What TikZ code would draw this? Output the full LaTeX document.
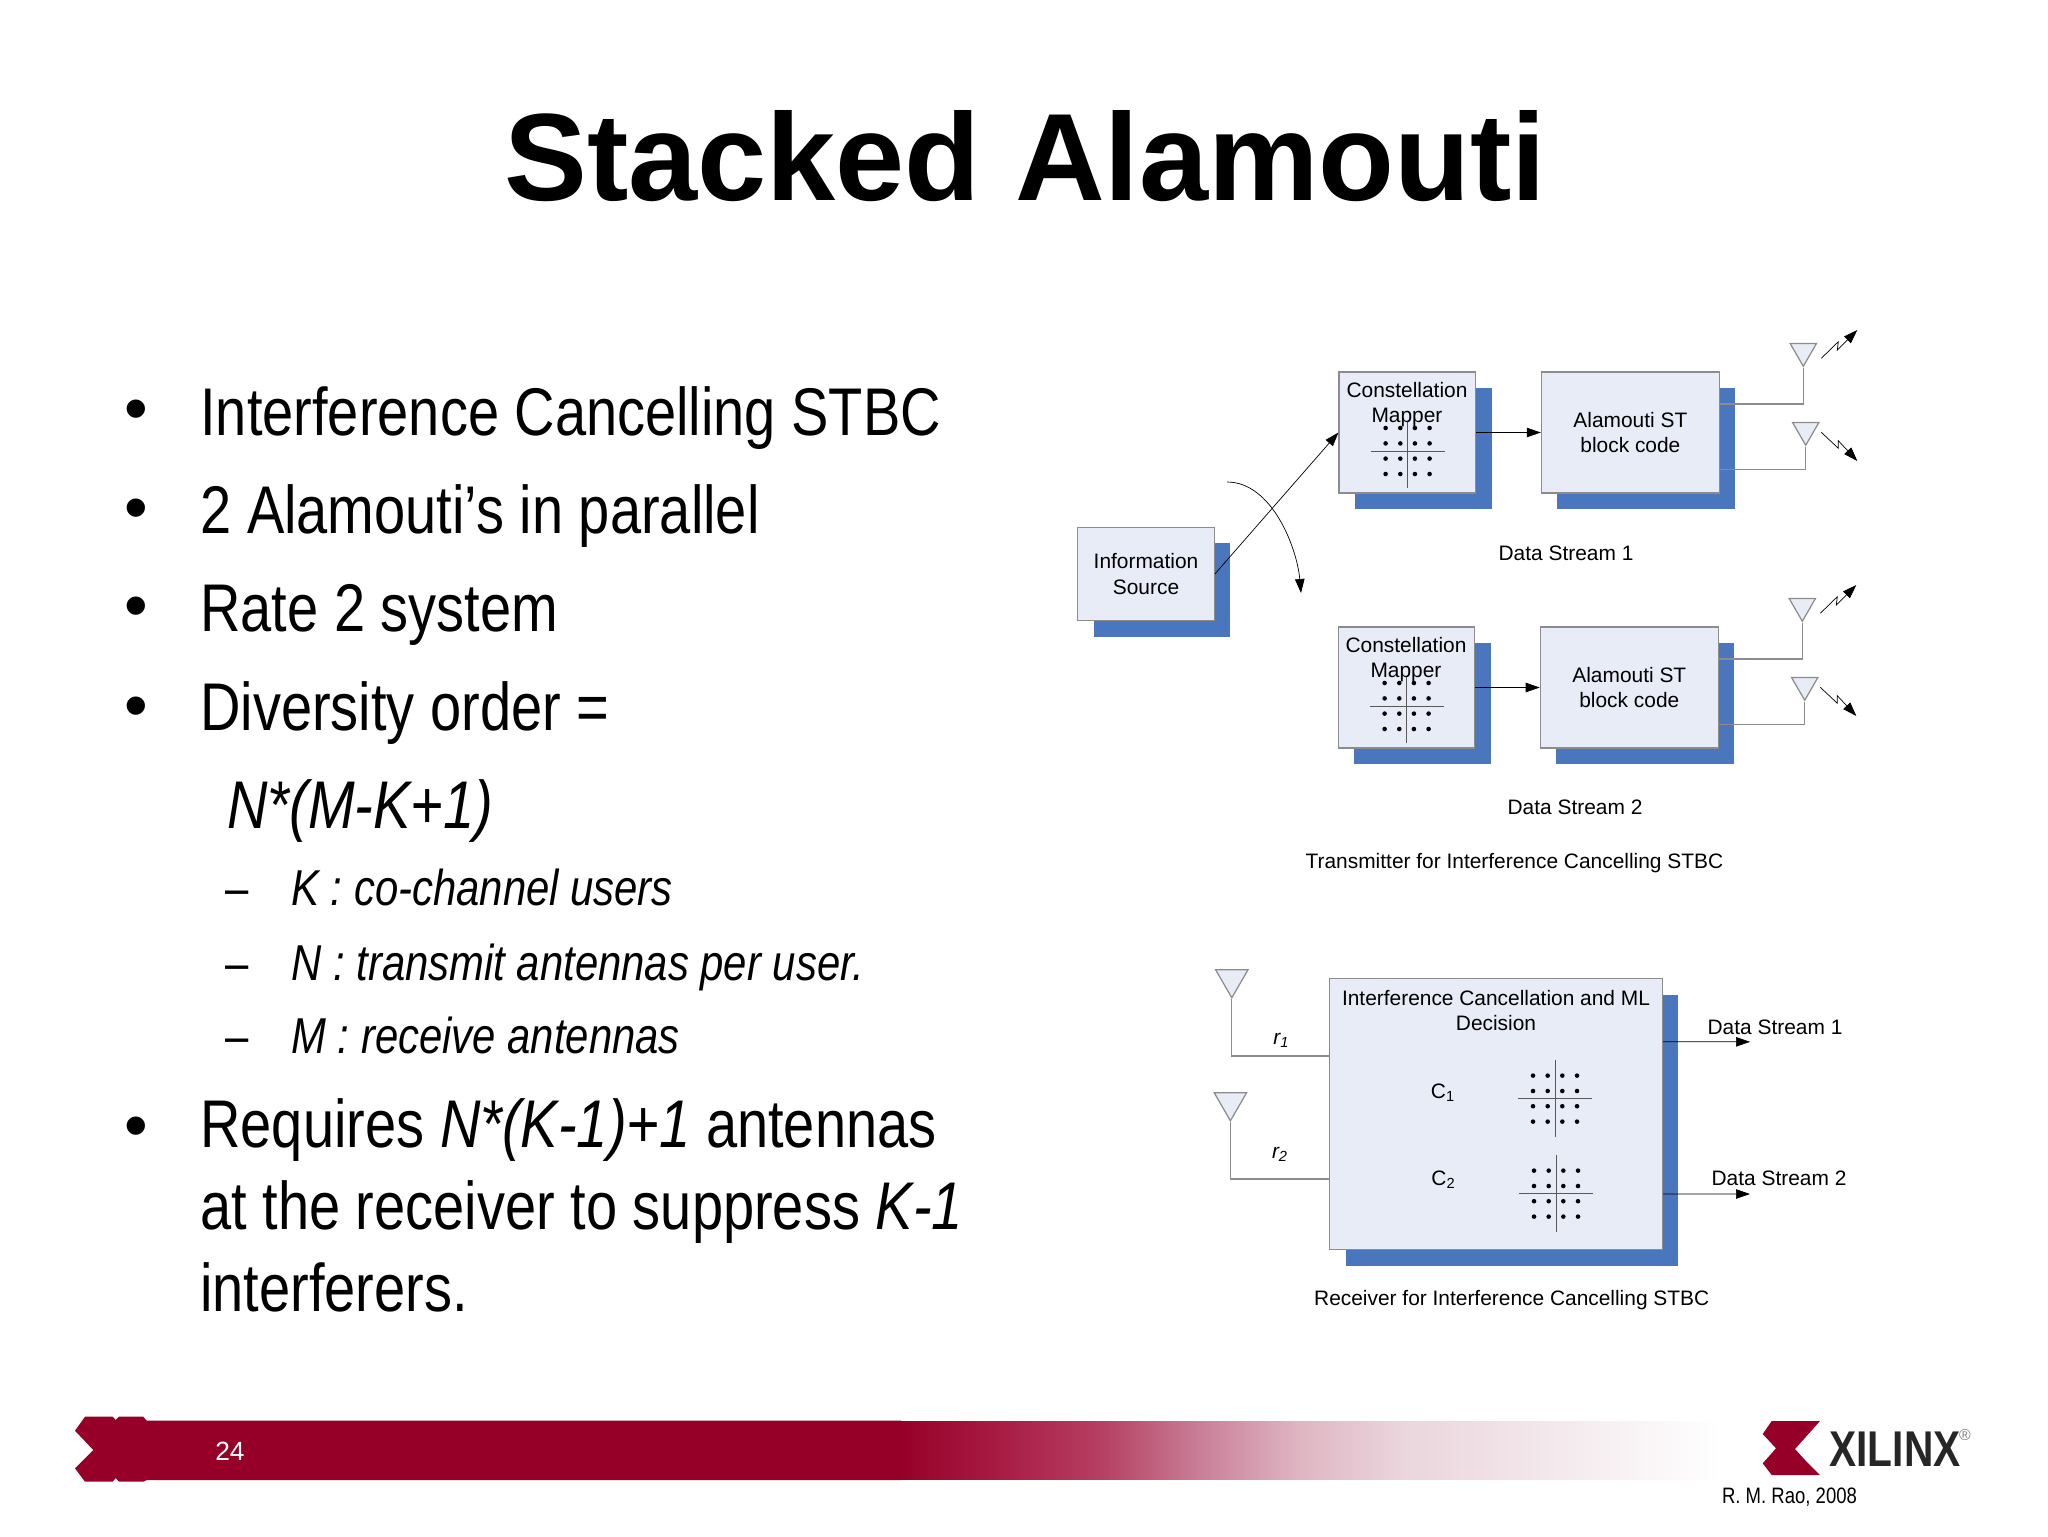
\documentclass[tikz,border=0pt]{standalone}
\usepackage{fontspec}
\setmainfont{Liberation Sans}
\newfontfamily\bodyfont[FakeStretch=0.83]{Liberation Sans}
\newfontfamily\logofont[FakeStretch=0.81]{Liberation Sans}
\usetikzlibrary{arrows.meta,shadows,shapes.geometric}
\definecolor{boxfill}{HTML}{E8ECF6}
\definecolor{boxline}{HTML}{8C8C8C}
\definecolor{boxshade}{HTML}{4A76BE}
\definecolor{xilred}{HTML}{960028}
\definecolor{fadeA}{HTML}{A81C44}
\definecolor{fadeB}{HTML}{B53F62}
\definecolor{fadeC}{HTML}{C97F97}
\definecolor{fadeD}{HTML}{DFB6C3}
\definecolor{fadeE}{HTML}{EAD5DC}
\definecolor{fadeF}{HTML}{F3E8EC}
\pgfdeclarehorizontalshading{bandfade}{100bp}{color(0bp)=(xilred); color(25bp)=(xilred); color(31.1bp)=(fadeA); color(37.2bp)=(fadeB); color(43.3bp)=(fadeC); color(49.4bp)=(fadeD); color(55.5bp)=(fadeE); color(64.6bp)=(fadeF); color(75bp)=(white); color(100bp)=(white)}
\newcommand{\constel}[4]{% centre x, centre y, top and bottom of the upright axis
  \draw[axisline] (#1-37,#2)--(#1+37,#2) (#1,#2-#3)--(#1,#2+#4);
  \foreach \dx in {-22,-7.3,7.3,22} \foreach \dy in {-23,-7.6,7.6,23}
    \fill[black] (#1+\dx,#2+\dy) circle (1.3pt);
}
\tikzset{
  block/.style={draw=boxline,fill=boxfill,line width=0.7pt,inner sep=0pt,align=center,font=\fontsize{11.9}{14.4}\selectfont,
    general shadow={fill=boxshade,draw=none,shadow xshift=0.32cm,shadow yshift=-0.32cm}},
  antenna/.style={draw=boxline,fill=boxfill,line width=0.7pt,regular polygon,regular polygon sides=3,shape border rotate=180,inner sep=0pt},
  wire/.style={draw=boxline,line width=0.7pt},
  arrowline/.style={draw=black,line width=0.4pt,-{Triangle[length=2.8mm,width=1.9mm]}},
  axisline/.style={draw=black!65,line width=0.5pt},
  caption/.style={font=\fontsize{11.9}{14.4}\selectfont,inner sep=0pt,align=center},
  bodyline/.style={font=\bodyfont\fontsize{38.4}{46.7}\selectfont,anchor=base west,inner sep=0pt,align=left},
  subline/.style={font=\bodyfont\fontsize{28.7}{34}\selectfont\itshape,anchor=base west,inner sep=0pt},
  dashmark/.style={font=\bodyfont\fontsize{28.7}{34}\selectfont,anchor=base west,inner sep=0pt},
  bulletmark/.style={font=\fontsize{38.4}{40}\selectfont,inner sep=0pt},
}
\begin{document}
\begin{tikzpicture}[x=0.02cm,y=-0.02cm]
\useasboundingbox (0,0) rectangle (2048,1536);
% title
\node[font=\bfseries\fontsize{70.7}{72}\selectfont,anchor=base,inner sep=0pt] (title) at (1025.5,200) {Stacked Alamouti};
% text on the left
\node[bulletmark] (b1) at (136.5,416) {\textbullet};
\node[bulletmark] (b2) at (136.5,514.5) {\textbullet};
\node[bulletmark] (b3) at (136.5,613) {\textbullet};
\node[bulletmark] (b4) at (136.5,713) {\textbullet};
\node[bulletmark] (b5) at (136.5,1133) {\textbullet};
\node[bodyline] (t1) at (200,435) {Interference Cancelling STBC};
\node[bodyline] (t2) at (200,533.3) {2 Alamouti’s in parallel};
\node[bodyline] (t3) at (200,631.7) {Rate 2 system};
\node[bodyline] (t4) at (200,730) {Diversity order =};
\node[bodyline] (t5) at (227,828.5) {\itshape N*(M-K+1)};
\node[dashmark] (d1) at (225,905) {–};
\node[dashmark] (d2) at (225,980) {–};
\node[dashmark] (d3) at (225,1053) {–};
\node[subline] (s1) at (291,905) {K : co-channel users};
\node[subline] (s2) at (291,980) {N : transmit antennas per user.};
\node[subline] (s3) at (291,1053) {M : receive antennas};
\node[bodyline] (t6) at (200,1311.5) {Requires {\itshape N*(K-1)+1} antennas\\at the receiver to suppress {\itshape K-1}\\interferers.};
% transmitter
\node[block,minimum width=2.73cm,minimum height=1.87cm] (info) at (1146,574) {Information\\Source};
\node[block,minimum width=2.73cm,minimum height=2.42cm] (mapA) at (1407.3,432.5) {};
\node[block,minimum width=3.56cm,minimum height=2.42cm] (alamA) at (1630.4,432.5) {Alamouti ST\\block code};
\node[block,minimum width=2.73cm,minimum height=2.42cm] (mapB) at (1406.5,687.5) {};
\node[block,minimum width=3.56cm,minimum height=2.42cm] (alamB) at (1629.3,687.5) {Alamouti ST\\block code};
\node[caption] (conA) at (1407,390) {Constellation};
\node[caption] (mprA) at (1407,417) {Mapper};
\node[caption] (conB) at (1406,645) {Constellation};
\node[caption] (mprB) at (1406,672) {Mapper};
\constel{1407.6}{451}{28.6}{37.4}
\constel{1406.6}{706}{28.6}{37.4}
\node[antenna,minimum size=0.61cm,anchor=corner 1] (antA) at (1803.3,367.5) {};
\node[antenna,minimum size=0.61cm,anchor=corner 1] (antB) at (1805.7,446.5) {};
\node[antenna,minimum size=0.61cm,anchor=corner 1] (antC) at (1802.3,622.5) {};
\node[antenna,minimum size=0.61cm,anchor=corner 1] (antD) at (1804.7,701.5) {};
\draw[wire] ([yshift=0.57cm]alamA.east) -| (antA.corner 1);
\draw[wire] ([yshift=-0.74cm]alamA.east) -| (antB.corner 1);
\draw[wire] ([yshift=0.57cm]alamB.east) -| (antC.corner 1);
\draw[wire] ([yshift=-0.74cm]alamB.east) -| (antD.corner 1);
\draw[arrowline] (mapA.east)--(alamA.west);
\draw[arrowline] (mapB.east)--(alamB.west);
\draw[arrowline] (info.east)--(mapA.west);
\coordinate (splitA) at (1227,482);
\coordinate (splitB) at (1301,593);
\draw[arrowline] (splitA) .. controls (1272,482) and (1297,548) .. (splitB);
\coordinate (waveA) at (1821.3,358.3);
\coordinate (waveB) at (1857.3,330);
\coordinate (waveC) at (1821.3,432.3);
\coordinate (waveD) at (1857.3,461);
\coordinate (waveE) at (1820.3,613.3);
\coordinate (waveF) at (1856.3,585);
\coordinate (waveG) at (1820.3,687.3);
\coordinate (waveH) at (1856.3,716);
\draw[arrowline] (waveA)--++(17,-16.6)--++(-1,8.3)--(waveB);
\draw[arrowline] (waveC)--++(17,16)--++(0,-7.6)--(waveD);
\draw[arrowline] (waveE)--++(17,-16.6)--++(-1,8.3)--(waveF);
\draw[arrowline] (waveG)--++(17,16)--++(0,-7.6)--(waveH);
\node[caption] (dsA) at (1566,553) {Data Stream 1};
\node[caption] (dsB) at (1575,807) {Data Stream 2};
\node[caption] (txcap) at (1514.4,863) {Transmitter for Interference Cancelling STBC};
% receiver
\node[block,minimum width=6.66cm,minimum height=5.42cm] (rx) at (1496,1114.3) {};
\node[caption] (rxtxt) at (1496,1010.2) {Interference Cancellation and ML\\Decision};
\node[caption] (cA) at (1443,1092.3) {C\textsubscript{1}};
\node[caption] (cB) at (1443.5,1179.7) {C\textsubscript{2}};
\constel{1555}{1098.6}{38.5}{38.5}
\constel{1556}{1193.6}{38.5}{38.5}
\node[antenna,minimum size=0.75cm,anchor=corner 1] (antR) at (1231.8,999) {};
\node[antenna,minimum size=0.75cm,anchor=corner 1] (antS) at (1230.4,1122) {};
\draw[wire] (antR.corner 1) |- ([yshift=1.165cm]rx.west);
\draw[wire] (antS.corner 1) |- ([yshift=-1.295cm]rx.west);
\node[caption] (rA) at (1281.4,1040.5) {\itshape r\textsubscript{1}};
\node[caption] (rB) at (1280,1154.5) {\itshape r\textsubscript{2}};
\coordinate (outA) at (1750,1041.8);
\coordinate (outB) at (1750,1194);
\draw[arrowline] ([yshift=1.45cm]rx.east)--(outA);
\draw[arrowline] ([yshift=-1.594cm]rx.east)--(outB);
\node[caption] (dsC) at (1775,1027) {Data Stream 1};
\node[caption] (dsD) at (1779,1178) {Data Stream 2};
\node[caption] (rxcap) at (1511.7,1300) {Receiver for Interference Cancelling STBC};
% footer band
\fill[xilred] (75,1430.7)--(85,1416.7)--(112.7,1416.7)--(115.7,1420)--(119,1416.7)--(143.3,1416.7)--(146.7,1420.7)--(901,1420.7)
  --(901,1480)--(146.7,1480)--(143.3,1481.7)--(119,1481.7)--(115.7,1478)--(112.7,1481.7)--(85,1481.7)--(75,1468.3)--(93.3,1450)--cycle;
\shade[shading=bandfade] (900,1421.3) rectangle (1720,1479.6);
\node[font=\fontsize{15}{16}\selectfont,text=white,anchor=base,inner sep=0pt] (pagenum) at (230,1460) {24};
% logo
\fill[xilred] (1771.7,1421)--(1820,1421)--(1795,1449)--(1805,1460)--(1820,1475)--(1771.7,1475)--(1762.7,1463.3)--(1776,1448.3)--(1762.7,1434)--cycle;
\node[font=\logofont\bfseries\fontsize{28.6}{30}\selectfont,text=black!85,anchor=base west,inner sep=0pt] (xilinx) at (1829,1466.7) {XILINX};
\node[font=\fontsize{9}{10}\selectfont,text=black!50,inner sep=0pt] (regmark) at (1965,1435) {®};
\node[font=\bodyfont\fontsize{12.7}{14}\selectfont,anchor=base west,inner sep=0pt] (credit) at (1721.7,1503.3) {R. M. Rao, 2008};
\end{tikzpicture}
\end{document}
